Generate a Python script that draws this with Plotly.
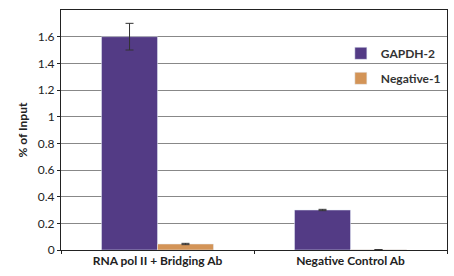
import plotly.graph_objects as go

categories = ["RNA pol II + Bridging Ab", "Negative Control Ab"]
gapdh_values = [1.6, 0.30]
gapdh_err = [0.1, 0.005]
neg_values = [0.045, 0.002]
neg_err = [0.005, 0.001]
y_ticks = [0, 0.2, 0.4, 0.6, 0.8, 1, 1.2, 1.4, 1.6]
y_tick_labels = ["0", "0.2", "0.4", "0.6", "0.8", "1", "1.2", "1.4", "1.6"]

FONT = "Lato"
purple = "#533B85"
orange = "#D39457"

fig = go.Figure()
fig.add_trace(go.Bar(
    name="GAPDH-2", x=categories, y=gapdh_values, marker_color=purple,
    error_y=dict(type="data", array=gapdh_err, color="#333333", thickness=1, width=4),
    legendgroup="a",
))
fig.add_trace(go.Bar(
    name="Negative-1", x=categories, y=neg_values, marker_color=orange,
    error_y=dict(type="data", array=neg_err, color="#333333", thickness=1, width=4),
    legendgroup="b",
))

fig.update_layout(
    width=454, height=276,
    margin=dict(l=61, r=7, t=10, b=26, autoexpand=False),
    paper_bgcolor="white", plot_bgcolor="white",
    barmode="group", bargap=0.42, bargroupgap=0,
    font=dict(family=FONT, size=12, color="#222222"),
    showlegend=True,
    legend=dict(x=0.725, y=0.88, xanchor="left", yanchor="top",
                font=dict(family=FONT, size=12, color="#333333", weight="bold"),
                bgcolor="rgba(0,0,0,0)", tracegroupgap=6, traceorder="grouped"),
    xaxis=dict(
        automargin=False,
        showline=True, linecolor="#222222", linewidth=1, mirror=True,
        ticks="outside", tickson="boundaries", ticklen=3, tickcolor="#222222",
        tickfont=dict(family=FONT, size=12, color="#222222", weight="bold"),
        showgrid=False,
    ),
    yaxis=dict(
        automargin=False,
        range=[0, 1.8], tickvals=y_ticks, ticktext=y_tick_labels,
        showline=True, linecolor="#222222", linewidth=1, mirror=True,
        ticks="outside", ticklen=3, tickcolor="#222222",
        showgrid=True, gridcolor="#888888", gridwidth=1,
        tickfont=dict(family=FONT, size=12, color="#222222"),
        title=dict(text="% of Input", font=dict(family=FONT, size=12, color="#222222", weight="bold"), standoff=7),
        zeroline=False,
    ),
)

fig.write_html("out.html", config={"displayModeBar": False},
               post_script="document.body.style.margin='0px';")
